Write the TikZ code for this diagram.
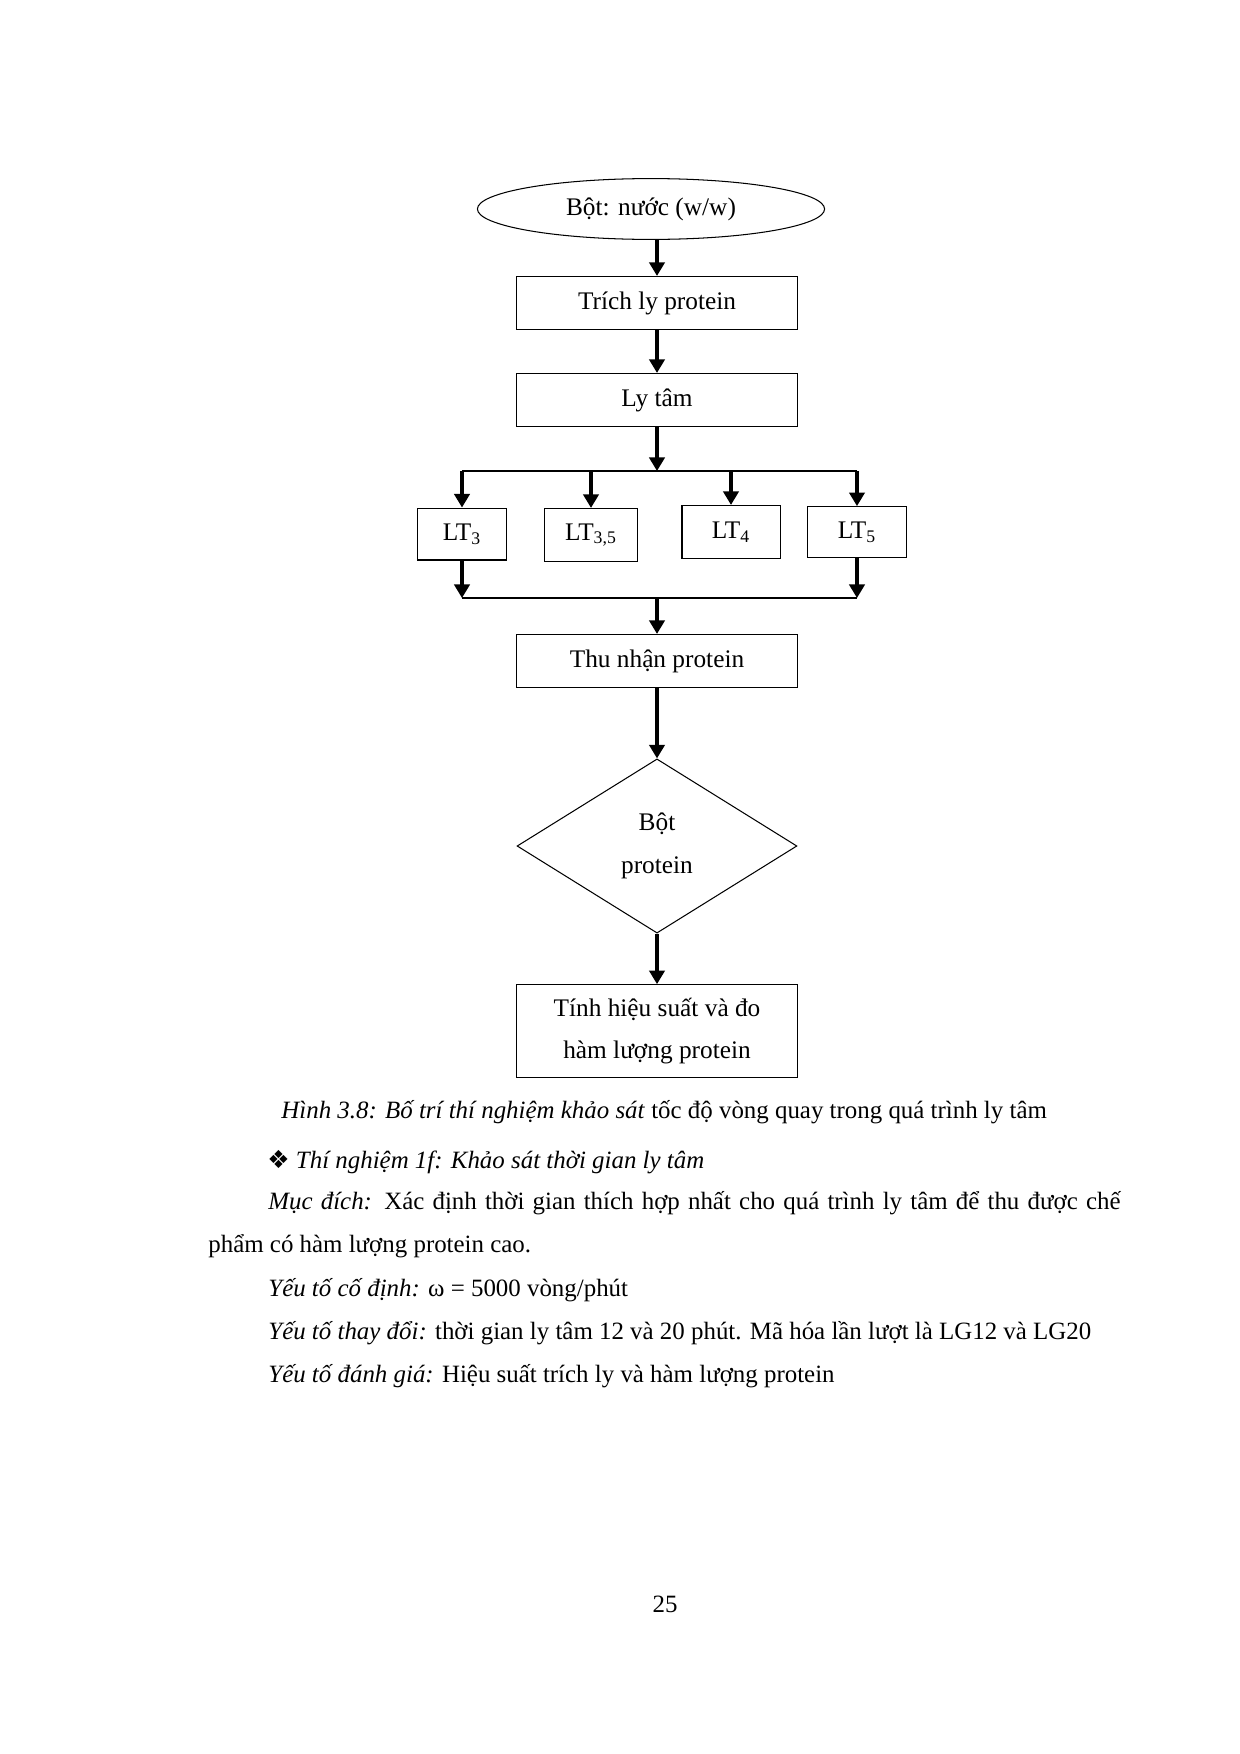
\documentclass[tikz,border=0pt]{standalone}
\usepackage{fontspec}
\setmainfont{Liberation Serif}
\newfontfamily\dingfont{DejaVu Sans}
\usetikzlibrary{shapes.geometric,arrows.meta}

\begin{document}
\begin{tikzpicture}[x=0.16935mm,y=-0.16935mm,
    every node/.style={font=\fontsize{12.2}{20.6}\selectfont},
    box/.style={draw,line width=0.5pt,minimum width=47.6mm,minimum height=9mm,inner sep=0pt,align=center},
    ltbox/.style={draw,line width=0.5pt,minimum height=8.8mm,inner sep=0pt},
    flow/.style={line width=1.5pt,-{Triangle[width=2.6mm,length=2.3mm]}},
    nhanh/.style={line width=0.6pt},
    txt/.style={anchor=base west,inner sep=0pt,font=\fontsize{12}{15}\selectfont}]
    \useasboundingbox[fill=white] (0,0) rectangle (1240,1754);
    % so do
    \node[draw,ellipse,line width=0.5pt,minimum width=58.8mm,minimum height=10.3mm,inner sep=0pt] (bot) at (651,209) {Bột: nước (w/w)};
    \node[box] (trich) at (657,303) {Trích ly protein};
    \node[box] (lytam) at (657,400) {Ly tâm};
    \node[ltbox,minimum width=15.1mm] (lt3) at (462,534) {LT\textsubscript{3}};
    \node[ltbox,minimum width=15.6mm,minimum height=9mm] (lt35) at (591,535) {LT\textsubscript{3,5}};
    \node[ltbox,minimum width=16.6mm,minimum height=9mm] (lt4) at (731,532) {LT\textsubscript{4}};
    \node[ltbox,minimum width=16.8mm,minimum height=8.6mm] (lt5) at (857,532) {LT\textsubscript{5}};
    \node[box] (thu) at (657,661) {Thu nhận protein};
    \node[draw,diamond,aspect=1.6,line width=0.5pt,minimum width=47.4mm,minimum height=29.5mm,inner sep=0pt,align=center] (botp) at (657,846) {Bột\\protein};
    \node[box,minimum height=15.7mm] (tinh) at (657,1031) {Tính hiệu suất và đo\\hàm lượng protein};
    \coordinate (split) at (656,471);
    \coordinate (merge) at (656,598);
    % mui ten
    \draw[flow] (bot.south -| trich.north) -- (trich.north);
    \draw[flow] (trich) -- (lytam);
    \draw[flow] (lytam.south) -- (lytam.south |- split);
    \draw[nhanh] (lt3.north |- split) -- (lt5.north |- split);
    \foreach \n in {lt3,lt35,lt4,lt5}
        \draw[flow] (\n.north |- split) -- (\n.north);
    \foreach \n in {lt3,lt5}
        \draw[flow] (\n.south) -- (\n.south |- merge);
    \draw[nhanh] (lt3.south |- merge) -- (lt5.south |- merge);
    \draw[flow] (thu.north |- merge) -- (thu.north);
    \draw[flow] (thu) -- (botp);
    \draw[flow] (botp) -- (tinh);
    % van ban
    \node[txt] (cap) at (281,1118) {\textit{Hình 3.8: Bố trí thí nghiệm khảo sát} tốc độ vòng quay trong quá trình ly tâm};
    \node[txt] (tn) at (267,1168) {{\dingfont ❖} \textit{Thí nghiệm 1f: Khảo sát thời gian ly tâm}};
    \node[txt] (md) at (268,1209) {\makebox[144.3mm][s]{\textit{Mục đích:} Xác định thời gian thích hợp nhất cho quá trình ly tâm để thu được chế}};
    \node[txt] (md2) at (208,1252) {phẩm có hàm lượng protein cao.};
    \node[txt] (cd) at (268,1296) {\textit{Yếu tố cố định:} ω = 5000 vòng/phút};
    \node[txt] (td) at (268,1339) {\textit{Yếu tố thay đổi:} thời gian ly tâm 12 và 20 phút. Mã hóa lần lượt là LG12 và LG20};
    \node[txt] (dg) at (268,1382) {\textit{Yếu tố đánh giá:} Hiệu suất trích ly và hàm lượng protein};
    \node[txt,anchor=base] (trang) at (665,1612) {25};
\end{tikzpicture}
\end{document}
